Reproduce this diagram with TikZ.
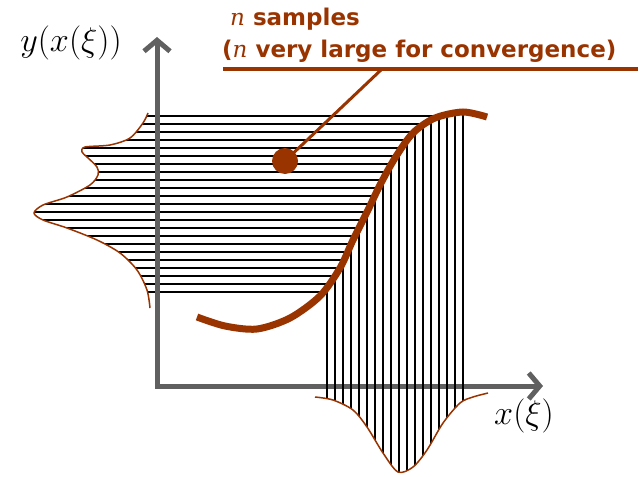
\documentclass[tikz,border=0pt]{standalone}
\usepackage{fontspec}
\setsansfont{DejaVu Sans}
\newfontfamily\nfont{DejaVu Serif}
\usetikzlibrary{arrows.meta}
\definecolor{samplebrown}{HTML}{993300}
\definecolor{axisgray}{HTML}{606060}
\tikzset{
  axis/.style={
    line width=5pt,
    draw=axisgray,
    {Straight Barb[length=11pt,width=26pt]}-{Straight Barb[length=11pt,width=26pt]}
  },
  hatch/.style={
    line width=1.8pt,
    draw=black
  },
  density/.style={
    line width=1.5pt,
    draw=samplebrown
  },
  response/.style={
    line width=7pt,
    draw=samplebrown
  },
  leader/.style={
    line width=3pt,
    draw=samplebrown
  },
  notetext/.style={
    text=samplebrown,
    font=\fontsize{23}{32}\selectfont\sffamily\bfseries,
    align=left,
    inner sep=0pt
  },
  axislabel/.style={
    font=\huge,
    scale=1.65,
    inner sep=0pt
  }
}
\newcommand{\nvar}{{\nfont\mdseries\itshape n}}
% curves, in pixels of the picture
\def\scurve{plot[smooth] coordinates {(197,317) (225,326) (257,329) (290,318)
  (320,296) (340,268) (353,240) (368,210) (380,185) (395,158) (413,133)
  (435,118) (463,112) (487,117)}}
\def\ydensity{plot[smooth] coordinates {(148,113) (143,123) (130,138) (110,145)
  (85,147) (82,152) (87,157) (97,167) (98,175) (90,185) (67,197) (43,205)
  (34,213) (43,220) (67,228) (97,240) (120,253) (137,270) (147,290) (150,308)}}
\def\xdensity{plot[smooth] coordinates {(315,397) (333,400) (353,410) (367,427)
  (383,453) (398,472) (413,467) (427,450) (443,423) (460,403) (473,397)
  (488,393)}}

\begin{document}
\begin{tikzpicture}[x=1pt,y=-1pt]
\useasboundingbox (0,0) rectangle (644,476);
\coordinate (origin) at (157,386);
\coordinate (ytop) at (157,37);
\coordinate (xend) at (543,386);

% horizontal samples
\begin{scope}
  \clip \ydensity -- (700,308) -- (700,113) -- cycle;
  \clip \scurve -- (487,0) -- (0,0) -- (0,317) -- cycle;
  \foreach \yy in {116,124,...,292}
    \draw[hatch] (0,\yy) -- (600,\yy);
\end{scope}

\draw[axis] (ytop) -- (origin) -- (xend);

% vertical samples
\begin{scope}
  \clip \scurve -- (487,480) -- (197,480) -- cycle;
  \clip \xdensity -- (488,0) -- (315,0) -- cycle;
  \foreach \xx in {327,335,...,463}
    \draw[hatch] (\xx,0) -- (\xx,480);
\end{scope}

\draw[density] \ydensity;
\draw[density] \xdensity;
\draw[response] \scurve;

\node[axislabel] (ylabel) at (71,43) {$y\bigl(x(\xi)\bigr)$};
\node[axislabel] (xlabel) at (524,416) {$x(\xi)$};

\node[notetext, anchor=north west] (samples) at (222,7.5)
  {\hspace*{8pt}\nvar{} samples\\(\nvar{} very large for convergence)};
\coordinate (ruleL) at (223,69);
\coordinate (ruleR) at (638,69);
\coordinate (rulept) at (382,69);
\draw[leader, line width=4pt] (ruleL) -- (ruleR);
\node[circle, fill=samplebrown, minimum size=26pt, inner sep=0pt] (dot) at (285,161) {};
\draw[leader] (dot.center) -- (rulept);
\end{tikzpicture}
\end{document}
